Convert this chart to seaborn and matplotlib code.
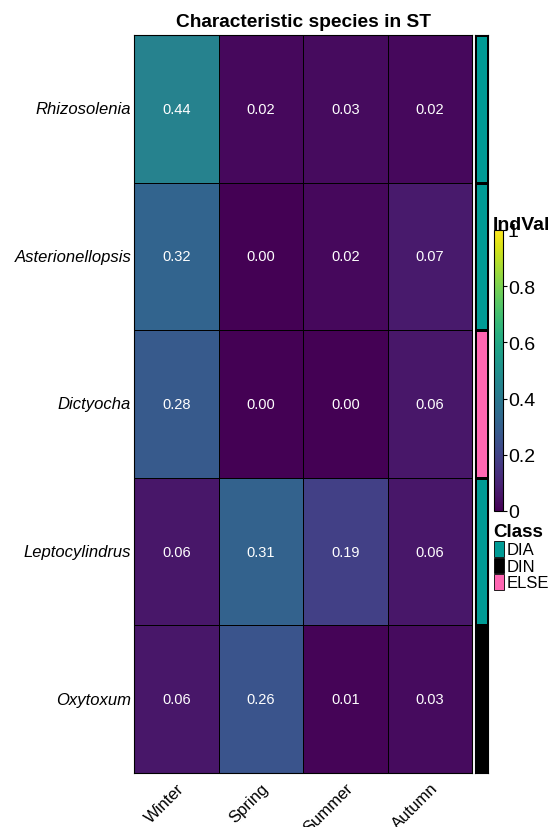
import numpy as np
import pandas as pd
import matplotlib
matplotlib.use("Agg")
import matplotlib.pyplot as plt
from matplotlib.colors import ListedColormap
from matplotlib.patches import Rectangle
import seaborn as sns

species = ["Rhizosolenia", "Asterionellopsis", "Dictyocha", "Leptocylindrus", "Oxytoxum"]
seasons = ["Winter", "Spring", "Summer", "Autumn"]
winter = [0.44, 0.32, 0.28, 0.06, 0.06]
spring = [0.02, 0.00, 0.00, 0.31, 0.26]
summer = [0.03, 0.02, 0.00, 0.19, 0.01]
autumn = [0.02, 0.07, 0.06, 0.06, 0.03]
species_class = ["DIA", "DIA", "ELSE", "DIA", "DIN"]
class_names = ["DIA", "DIN", "ELSE"]
class_colors = ["#009B95", "#000000", "#FF66B2"]
cbar_ticks = [0, 0.2, 0.4, 0.6, 0.8, 1]
cbar_labels = ["0", "0.2", "0.4", "0.6", "0.8", "1"]

sns.set_theme(style="white")
plt.rcParams["font.family"] = ["Liberation Sans", "DejaVu Sans"]
plt.rcParams["text.color"] = "black"
plt.rcParams["xtick.color"] = "black"
plt.rcParams["ytick.color"] = "black"

W, H = 553, 828
fig = plt.figure(figsize=(W / 100, H / 100), dpi=100)

def box(x0, y0, x1, y1):
    return [x0 / W, 1 - y1 / H, (x1 - x0) / W, (y1 - y0) / H]

df = pd.DataFrame({"Winter": winter, "Spring": spring, "Summer": summer, "Autumn": autumn},
                  index=species)[seasons]

ax = fig.add_axes(box(134, 36, 472, 774))
sns.heatmap(df, ax=ax, cmap="viridis", vmin=0, vmax=1, annot=True, fmt=".2f",
            annot_kws={"color": "white", "fontsize": 10.5},
            linewidths=0.5, linecolor="black", cbar=False)
for t in ax.texts:
    t.set_color("white")
ax.set_xticklabels(seasons, rotation=45, ha="right", va="top", rotation_mode="anchor",
                   fontsize=12)
ax.set_yticklabels(species, rotation=0, fontstyle="italic", fontsize=12)
ax.tick_params(axis="x", length=0, pad=5)
ax.tick_params(axis="y", length=0, pad=2)
ax.set_xlabel("")
ax.set_ylabel("")
for s in ax.spines.values():
    s.set_visible(True)
    s.set_color("black")
    s.set_linewidth(0.8)
fig.text((134 + 472) / 2 / W, 1 - 27 / H, "Characteristic species in ST", fontsize=13.8,
         fontweight="bold", ha="center", va="baseline")

# class annotation column
codes = pd.DataFrame({"Class": [class_names.index(c) for c in species_class]}, index=species)
cax = fig.add_axes(box(475, 36, 488, 774))
sns.heatmap(codes, ax=cax, cmap=ListedColormap(class_colors), vmin=-0.5, vmax=2.5,
            cbar=False, linewidths=0.8, linecolor="black", xticklabels=False, yticklabels=False)
for s in cax.spines.values():
    s.set_visible(True)
    s.set_color("black")
    s.set_linewidth(0.8)

# IndVal colour key
kax = fig.add_axes(box(494, 231, 503, 512))
sm = plt.cm.ScalarMappable(cmap="viridis", norm=plt.Normalize(0, 1))
cb = fig.colorbar(sm, cax=kax, ticks=cbar_ticks)
cb.set_ticklabels(cbar_labels)
kax.tick_params(length=3, width=0.8, color="black", labelsize=14, pad=0.5, direction="out")
cb.outline.set_edgecolor("black")
cb.outline.set_linewidth(0.8)
fig.text(493 / W, 1 - 230 / H, "IndVal", fontsize=14, fontweight="bold", ha="left", va="baseline")

# Class legend
fig.text(493 / W, 1 - 537 / H, "Class", fontsize=13.5, fontweight="bold", ha="left", va="baseline")
for i, (name, col) in enumerate(zip(class_names, class_colors)):
    y0 = 542 + i * 16.5
    fig.patches.append(Rectangle((494 / W, 1 - (y0 + 15.5) / H), 10 / W, 15.5 / H,
                                 transform=fig.transFigure, facecolor=col,
                                 edgecolor="black", linewidth=0.6))
    fig.text(507 / W, 1 - (y0 + 13.5) / H, name, fontsize=12, ha="left", va="baseline")

fig.savefig("out.png", dpi=100)
